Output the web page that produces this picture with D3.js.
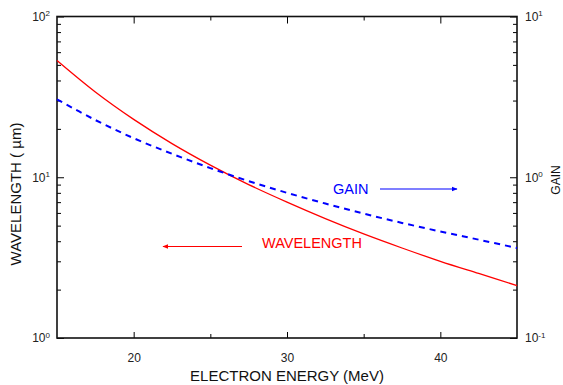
<!DOCTYPE html>
<html>
<head>
<meta charset="utf-8">
<script src="https://cdn.jsdelivr.net/npm/d3@7"></script>
<style>
    body { margin: 0; background: #fff; }
    svg text { font-family: "Liberation Sans", Arial, sans-serif; }
    .axis path { display: none; }
    .axis line { stroke: #000; stroke-width: 1; }
</style>
</head>
<body>
<svg width="563" height="385"></svg>
<script>
    // electron energy (MeV)
    var energy = [15, 17.5, 20, 22.5, 25, 27.5, 30, 32.5, 35, 37.5, 40, 42.5, 45];
    // wavelength in micrometres, left axis
    var wavelength = [53.2, 33.9, 22.9, 16.2, 11.9, 9.0, 7.0, 5.53, 4.44, 3.63, 3.0, 2.52, 2.12];
    // gain, right axis
    var gain = [3.05, 2.27, 1.75, 1.40, 1.14, 0.946, 0.80, 0.686, 0.594, 0.52, 0.46, 0.409, 0.363];

    var xMajor = [20, 30, 40];
    var xMinor = [25, 35];
    var leftMajor = [1, 10, 100];
    var rightMajor = [0.1, 1, 10];

    var svg = d3.select("svg");
    // plot box (note: "top" is reserved on window, so prefix these)
    var pLeft = 57, pRight = 517, pTop = 16.5, pBottom = 338;

    var x = d3.scaleLinear().domain([15, 45]).range([pLeft, pRight]);
    var yL = d3.scaleLog().domain([1, 100]).range([pBottom, pTop]);
    var yR = d3.scaleLog().domain([0.1, 10]).range([pBottom, pTop]);

    // minor log ticks 2..9 for every decade
    function logMinors(lo, hi) {
        var out = [];
        for (var d = lo; d < hi * 0.99; d *= 10)
            for (var k = 2; k <= 9; k++) out.push(d * k);
        return out;
    }

    function supLabel(sel) {
        sel.selectAll(".tick text").each(function(d) {
            var t = d3.select(this).text(null);
            t.append("tspan").text("10");
            t.append("tspan").attr("dy", "-0.55em").attr("font-size", "8px").text(Math.round(Math.log10(d)));
        });
    }

    // bottom axis
    svg.append("g").attr("class", "axis").attr("transform", "translate(0," + pBottom + ")")
        .call(d3.axisBottom(x).tickValues(xMajor).tickSize(-6).tickPadding(15).tickFormat(d3.format("d")))
        .call(g => g.selectAll("text").attr("font-size", "12px").attr("fill", "#222"));
    svg.append("g").attr("class", "axis").attr("transform", "translate(0," + pBottom + ")")
        .call(d3.axisBottom(x).tickValues(xMinor).tickSize(-4).tickFormat(""));
    // top axis
    svg.append("g").attr("class", "axis").attr("transform", "translate(0," + pTop + ")")
        .call(d3.axisTop(x).tickValues(xMajor).tickSize(-7).tickFormat(""));
    svg.append("g").attr("class", "axis").attr("transform", "translate(0," + pTop + ")")
        .call(d3.axisTop(x).tickValues(xMinor).tickSize(-4).tickFormat(""));

    // left axis
    svg.append("g").attr("class", "axis").attr("transform", "translate(" + pLeft + ",0)")
        .call(d3.axisLeft(yL).tickValues(leftMajor).tickSize(-7).tickPadding(7))
        .call(g => g.selectAll("text").attr("font-size", "12px").attr("fill", "#222"))
        .call(supLabel);
    svg.append("g").attr("class", "axis").attr("transform", "translate(" + pLeft + ",0)")
        .call(d3.axisLeft(yL).tickValues(logMinors(1, 100)).tickSize(-4).tickFormat(""));

    // right axis
    svg.append("g").attr("class", "axis").attr("transform", "translate(" + pRight + ",0)")
        .call(d3.axisRight(yR).tickValues(rightMajor).tickSize(-7).tickPadding(8))
        .call(g => g.selectAll("text").attr("font-size", "12px").attr("fill", "#222"))
        .call(supLabel);
    svg.append("g").attr("class", "axis").attr("transform", "translate(" + pRight + ",0)")
        .call(d3.axisRight(yR).tickValues(logMinors(0.1, 10)).tickSize(-4).tickFormat(""));

    // frame
    svg.append("rect")
        .attr("x", pLeft).attr("y", pTop)
        .attr("width", pRight - pLeft).attr("height", pBottom - pTop)
        .attr("fill", "none").attr("stroke", "#111").attr("stroke-width", 1.6);

    // curves
    var lineL = d3.line().x((d, i) => x(energy[i])).y(d => yL(d)).curve(d3.curveCatmullRom);
    var lineR = d3.line().x((d, i) => x(energy[i])).y(d => yR(d)).curve(d3.curveCatmullRom);

    svg.append("path").datum(wavelength)
        .attr("d", lineL).attr("fill", "none")
        .attr("stroke", "#ff0000").attr("stroke-width", 1.3);
    svg.append("path").datum(gain)
        .attr("d", lineR).attr("fill", "none")
        .attr("stroke", "#0000ff").attr("stroke-width", 2).attr("stroke-dasharray", "6,5");

    // arrow heads
    var defs = svg.append("defs");
    [["arrRed", "#ff0000"], ["arrBlue", "#0000ff"]].forEach(function(m) {
        defs.append("marker").attr("id", m[0])
            .attr("viewBox", "0 0 10 10").attr("refX", 9).attr("refY", 5)
            .attr("markerWidth", 6).attr("markerHeight", 6).attr("markerUnits", "userSpaceOnUse")
            .attr("orient", "auto")
            .append("path").attr("d", "M0,1L10,5L0,9Z").attr("fill", m[1]);
    });

    // annotations
    svg.append("text").attr("x", 333).attr("y", 194)
        .attr("font-size", "14.5px").attr("fill", "#0000ff").text("GAIN");
    svg.append("line").attr("x1", 380).attr("y1", 189).attr("x2", 457).attr("y2", 189)
        .attr("stroke", "#0000ff").attr("stroke-width", 1.2).attr("marker-end", "url(#arrBlue)");

    svg.append("text").attr("x", 262).attr("y", 248)
        .attr("font-size", "14.5px").attr("fill", "#ff0000").text("WAVELENGTH");
    svg.append("line").attr("x1", 242).attr("y1", 246.5).attr("x2", 163).attr("y2", 246.5)
        .attr("stroke", "#ff0000").attr("stroke-width", 1.2).attr("marker-end", "url(#arrRed)");

    // axis titles
    svg.append("text").attr("x", (pLeft + pRight) / 2).attr("y", 381)
        .attr("text-anchor", "middle").attr("font-size", "15px").attr("fill", "#111")
        .text("ELECTRON ENERGY (MeV)");
    svg.append("text").attr("transform", "translate(21,194) rotate(-90)")
        .attr("text-anchor", "middle").attr("font-size", "15px").attr("fill", "#111")
        .text("WAVELENGTH ( µm)");
    svg.append("text").attr("transform", "translate(560,180) rotate(-90)")
        .attr("text-anchor", "middle").attr("font-size", "12px").attr("fill", "#111")
        .text("GAIN");
</script>
</body>
</html>
